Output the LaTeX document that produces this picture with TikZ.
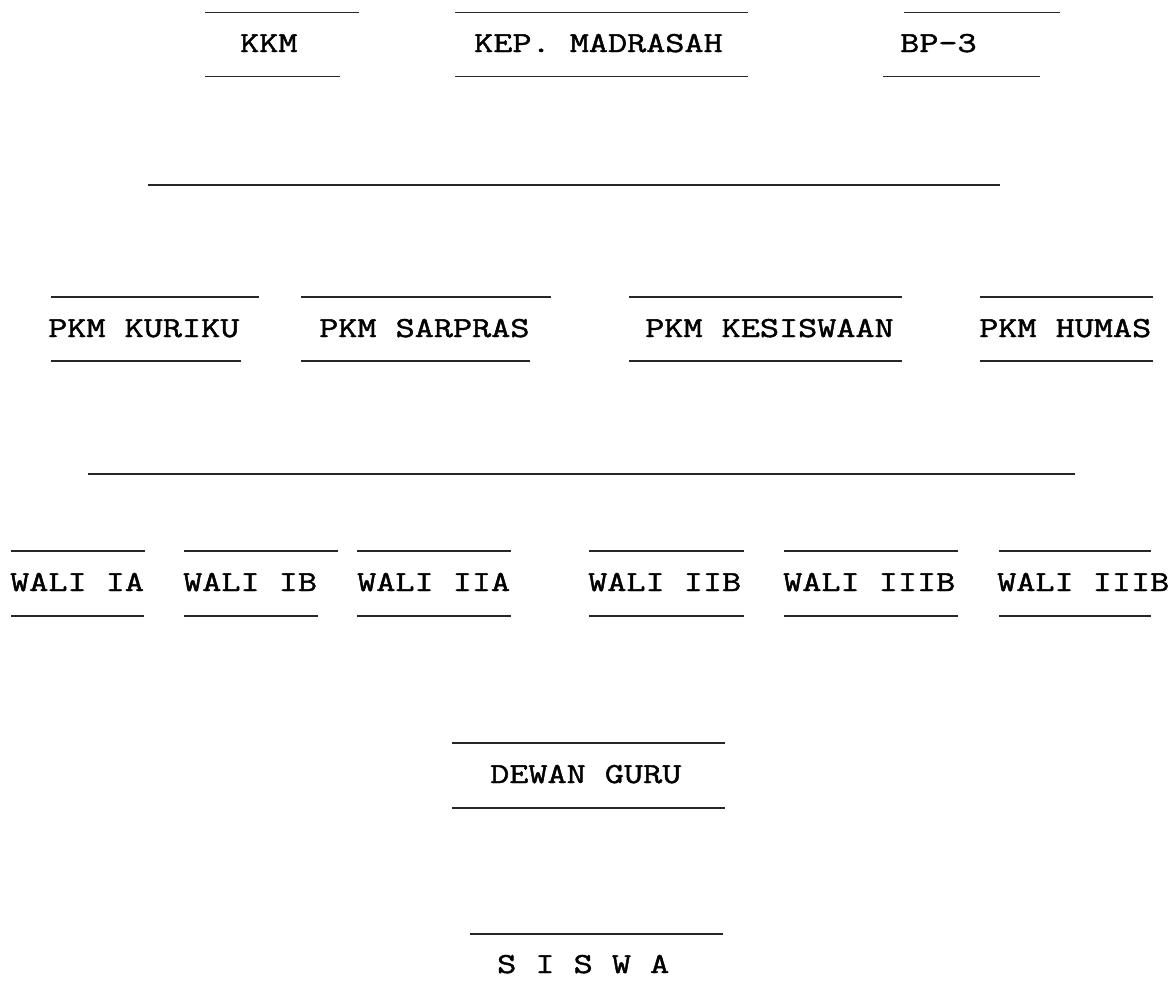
\documentclass[tikz,border=0pt]{standalone}
\usepackage{fontspec}
\newfontfamily\lmono[FakeStretch=1.28,FakeBold=1.6]{Latin Modern Mono}
\tikzset{
  lbl/.style={anchor=base west, inner sep=0pt, font=\lmono\fontsize{29}{29}\selectfont, text=black},
  rule/.style={line width=1.9pt, draw=black!85}
}
\begin{document}
\begin{tikzpicture}[x=1pt,y=-1pt]
\useasboundingbox (0,0) rectangle (1175,994);
% Row 1
\node[lbl] (kkm) at (240,52) {KKM};
\draw[rule] (205,12.5) -- (359,12.5);
\draw[rule] (205,76.5) -- (340,76.5);
\node[lbl] (kep) at (474,52) {KEP. MADRASAH};
\draw[rule] (455,12.5) -- (748,12.5);
\draw[rule] (455,76.5) -- (748,76.5);
\node[lbl] (bp) at (900,52) {BP-3};
\draw[rule] (904,12.5) -- (1060,12.5);
\draw[rule] (883,76.5) -- (1040,76.5);
% long line 1
\draw[rule] (148,185) -- (1000,185);
% Row 2
\node[lbl] (kur) at (48,337) {PKM KURIKU};
\draw[rule] (51,297) -- (259,297);
\draw[rule] (51,361) -- (241,361);
\node[lbl] (sar) at (319,337) {PKM SARPRAS};
\draw[rule] (301,297) -- (551,297);
\draw[rule] (301,361) -- (530,361);
\node[lbl] (kes) at (645,337) {PKM KESISWAAN};
\draw[rule] (629,297) -- (902,297);
\draw[rule] (629,361) -- (902,361);
\node[lbl] (hum) at (979,337) {PKM HUMAS};
\draw[rule] (980,297) -- (1153,297);
\draw[rule] (980,361) -- (1153,361);
% long line 2
\draw[rule] (88,474) -- (1075,474);
% Row 3
\node[lbl] (w1) at (10,591) {WALI IA};
\draw[rule] (11,551) -- (145,551);
\draw[rule] (11,616) -- (144,616);
\node[lbl] (w2) at (183,591) {WALI IB};
\draw[rule] (184,551) -- (338,551);
\draw[rule] (184,616) -- (318,616);
\node[lbl] (w3) at (357,591) {WALI IIA};
\draw[rule] (357,551) -- (511,551);
\draw[rule] (357,616) -- (511,616);
\node[lbl] (w4) at (588,591) {WALI IIB};
\draw[rule] (589,551) -- (744,551);
\draw[rule] (589,616) -- (744,616);
\node[lbl] (w5) at (783,591) {WALI IIIB};
\draw[rule] (784,551) -- (958,551);
\draw[rule] (784,616) -- (958,616);
\node[lbl] (w6) at (997,591) {WALI IIIB};
\draw[rule] (999,551) -- (1151,551);
\draw[rule] (999,616) -- (1151,616);
% Row 4
\node[lbl] (dg) at (490,783) {DEWAN GURU};
\draw[rule] (452,743) -- (725,743);
\draw[rule] (452,808) -- (725,808);
% Row 5
\node[lbl] (sis) at (497,973) {S I S W A};
\draw[rule] (470,934) -- (723,934);
\end{tikzpicture}
\end{document}
